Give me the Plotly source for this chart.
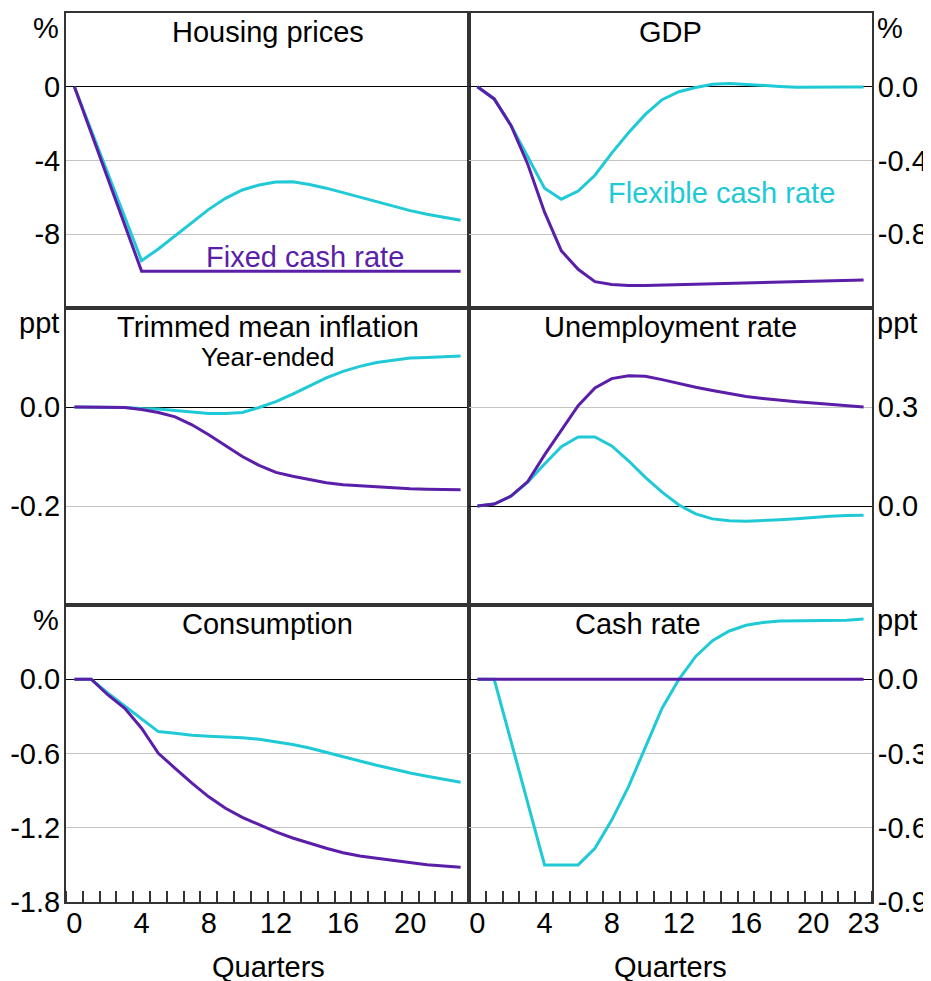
import plotly.graph_objects as go

quarters = list(range(24))

housing_fixed = [0, -2.5, -5, -7.5, -10, -10, -10, -10, -10, -10, -10, -10,
                 -10, -10, -10, -10, -10, -10, -10, -10, -10, -10, -10, -10]
housing_flex = [0, -2.36, -4.72, -7.07, -9.43, -8.8, -8.1, -7.35, -6.65, -6.05, -5.6, -5.33,
                -5.17, -5.15, -5.3, -5.5, -5.75, -6.0, -6.25, -6.5, -6.72, -6.92, -7.1, -7.24]

gdp_fixed = [0, -0.066, -0.21, -0.42, -0.68, -0.89, -0.99, -1.057, -1.073, -1.078, -1.078, -1.076,
             -1.073, -1.07, -1.067, -1.064, -1.062, -1.06, -1.058, -1.056, -1.054, -1.052, -1.05, -1.048]
gdp_flex = [0, -0.066, -0.21, -0.38, -0.55, -0.61, -0.566, -0.48, -0.36, -0.25, -0.15, -0.07,
            -0.027, -0.004, 0.014, 0.018, 0.014, 0.009, 0.002, -0.003, -0.004, -0.003, -0.002, -0.002]

infl_fixed = [0, 0, 0, -0.001, -0.005, -0.011, -0.02, -0.036, -0.056, -0.078, -0.1, -0.118,
              -0.132, -0.14, -0.147, -0.153, -0.157, -0.159, -0.162, -0.163, -0.165, -0.166, -0.166, -0.167]
infl_flex = [0, 0, 0, -0.001, -0.003, -0.004, -0.007, -0.01, -0.013, -0.013, -0.011, -0.001,
             0.011, 0.026, 0.043, 0.059, 0.072, 0.082, 0.09, 0.095, 0.099, 0.1, 0.102, 0.103]

unemp_fixed = [0, 0.006, 0.03, 0.074, 0.155, 0.231, 0.304, 0.358, 0.386, 0.395, 0.393, 0.383,
               0.371, 0.36, 0.35, 0.34, 0.332, 0.326, 0.32, 0.316, 0.312, 0.308, 0.304, 0.3]
unemp_flex = [0, 0.006, 0.03, 0.072, 0.127, 0.18, 0.209, 0.209, 0.182, 0.137, 0.087, 0.042,
              0.003, -0.024, -0.039, -0.045, -0.046, -0.045, -0.042, -0.039, -0.034, -0.031, -0.029, -0.028]

cons_fixed = [0, 0, -0.127, -0.234, -0.396, -0.598, -0.72, -0.84, -0.95, -1.043, -1.116, -1.178,
              -1.234, -1.283, -1.326, -1.366, -1.402, -1.429, -1.447, -1.466, -1.485, -1.499, -1.509, -1.52]
cons_flex = [0, 0, -0.113, -0.216, -0.315, -0.423, -0.437, -0.453, -0.461, -0.466, -0.472, -0.485,
             -0.504, -0.528, -0.555, -0.588, -0.625, -0.66, -0.695, -0.728, -0.757, -0.784, -0.809, -0.833]

cash_fixed = [0] * 24
cash_flex = [0, 0, -0.25, -0.5, -0.75, -0.75, -0.75, -0.683, -0.569, -0.434, -0.272, -0.117,
             0.0, 0.092, 0.156, 0.195, 0.218, 0.229, 0.235, 0.236, 0.236, 0.237, 0.238, 0.243]

panels = [
    ("Housing prices", housing_fixed, housing_flex, [-12, 4], [0, -4, -8], ["0", "-4", "-8"], "%"),
    ("GDP", gdp_fixed, gdp_flex, [-1.2, 0.4], [0, -0.4, -0.8], ["0.0", "-0.4", "-0.8"], "%"),
    ("Trimmed mean inflation", infl_fixed, infl_flex, [-0.4, 0.2], [0, -0.2], ["0.0", "-0.2"], "ppt"),
    ("Unemployment rate", unemp_fixed, unemp_flex, [-0.3, 0.6], [0.3, 0], ["0.3", "0.0"], "ppt"),
    ("Consumption", cons_fixed, cons_flex, [-1.8, 0.6], [0, -0.6, -1.2, -1.8], ["0.0", "-0.6", "-1.2", "-1.8"], "%"),
    ("Cash rate", cash_fixed, cash_flex, [-0.9, 0.3], [0, -0.3, -0.6, -0.9], ["0.0", "-0.3", "-0.6", "-0.9"], "ppt"),
]

PURPLE = "#5A1EA8"
CYAN = "#20C9D6"
FRAME = "#333333"
FONT = "Arial, Liberation Sans, sans-serif"
FS = 29

# page has an 8px body margin; figure fills the rest of the 931x981 window
OFF = 8
W, H = 931 - OFF, 981 - OFF


def px(x):
    return (x - OFF) / W


def py(y):
    return 1 - (y - OFF) / H


xdoms = [(px(66), px(469)), (px(469), px(872))]
ydoms = [(py(308), py(13)), (py(605), py(308)), (py(902), py(605))]

fig = go.Figure()
layout = dict(
    width=W, height=H, margin=dict(l=0, r=0, t=0, b=0, autoexpand=False),
    paper_bgcolor="white", plot_bgcolor="white", showlegend=False,
    font=dict(family=FONT, size=FS, color="black"),
)
annotations = []

for i, (title, fixed, flex, yr, tv, tt, unit) in enumerate(panels):
    row, col = divmod(i, 2)
    n = i + 1
    xa = "xaxis" if n == 1 else f"xaxis{n}"
    ya = "yaxis" if n == 1 else f"yaxis{n}"
    xref = "x" if n == 1 else f"x{n}"
    yref = "y" if n == 1 else f"y{n}"
    fig.add_trace(go.Scatter(x=quarters, y=flex, mode="lines", line=dict(color=CYAN, width=3),
                             xaxis=xref, yaxis=yref))
    fig.add_trace(go.Scatter(x=quarters, y=fixed, mode="lines", line=dict(color=PURPLE, width=3),
                             xaxis=xref, yaxis=yref))
    bottom = row == 2
    if col == 0:
        xt = [0, 4, 8, 12, 16, 20]
    else:
        xt = [0, 4, 8, 12, 16, 20, 23]
    layout[xa] = dict(
        domain=xdoms[col], range=[-0.5, 23.5], anchor=yref, automargin=False,
        showline=True, mirror=True, linecolor=FRAME, linewidth=2,
        showgrid=False, zeroline=False,
        tickmode="array", tickvals=xt, ticktext=[str(v) for v in xt],
        showticklabels=bottom, ticks="", ticklen=0, ticklabelstandoff=-6,
        tickfont=dict(size=FS, family=FONT),
        minor=dict(tickmode="linear", tick0=0.5, dtick=1, ticks="inside" if bottom else "",
                   ticklen=11, tickwidth=1.5, tickcolor=FRAME, showgrid=False),
        fixedrange=True,
    )
    layout[ya] = dict(
        domain=ydoms[row], range=yr, anchor=xref, automargin=False,
        side="left" if col == 0 else "right",
        showline=True, mirror=True, linecolor=FRAME, linewidth=2,
        showgrid=True, gridcolor="#C4C4C4", gridwidth=1.2,
        zeroline=True, zerolinecolor="black", zerolinewidth=1.2,
        tickmode="array", tickvals=tv, ticktext=tt, ticks="",
        tickfont=dict(size=FS, family=FONT), ticklabelstandoff=-2,
        fixedrange=True,
    )
    ytop = ydoms[row][1]
    cx = (xdoms[col][0] + xdoms[col][1]) / 2
    if title == "Cash rate":
        cx = px(638)
    annotations.append(dict(text=title, x=cx, y=ytop - 19 / H, xref="paper", yref="paper",
                            showarrow=False, xanchor="center", yanchor="middle",
                            font=dict(size=FS, family=FONT, color="black")))
    if col == 0:
        annotations.append(dict(text=unit, x=px(61), y=ytop - 15 / H, xref="paper", yref="paper",
                                showarrow=False, xanchor="right", yanchor="middle",
                                font=dict(size=FS, family=FONT, color="black")))
    else:
        annotations.append(dict(text=unit, x=px(875), y=ytop - 15 / H, xref="paper", yref="paper",
                                showarrow=False, xanchor="left", yanchor="middle",
                                font=dict(size=FS, family=FONT, color="black")))

annotations.append(dict(text="Year-ended", x=(xdoms[0][0] + xdoms[0][1]) / 2, y=py(357),
                        xref="paper", yref="paper", showarrow=False, xanchor="center", yanchor="middle",
                        font=dict(size=26, family=FONT, color="black")))
annotations.append(dict(text="Fixed cash rate", x=px(305), y=py(257), xref="paper", yref="paper",
                        showarrow=False, xanchor="center", yanchor="middle",
                        font=dict(size=FS, family=FONT, color=PURPLE)))
annotations.append(dict(text="Flexible cash rate", x=px(721), y=py(193), xref="paper", yref="paper",
                        showarrow=False, xanchor="center", yanchor="middle",
                        font=dict(size=FS, family=FONT, color=CYAN)))
for cx in (px(268), px(670)):
    annotations.append(dict(text="Quarters", x=cx, y=py(967), xref="paper", yref="paper",
                            showarrow=False, xanchor="center", yanchor="middle",
                            font=dict(size=FS, family=FONT, color="black")))

layout["annotations"] = annotations
fig.update_layout(**layout)
fig.write_html("out.html")
